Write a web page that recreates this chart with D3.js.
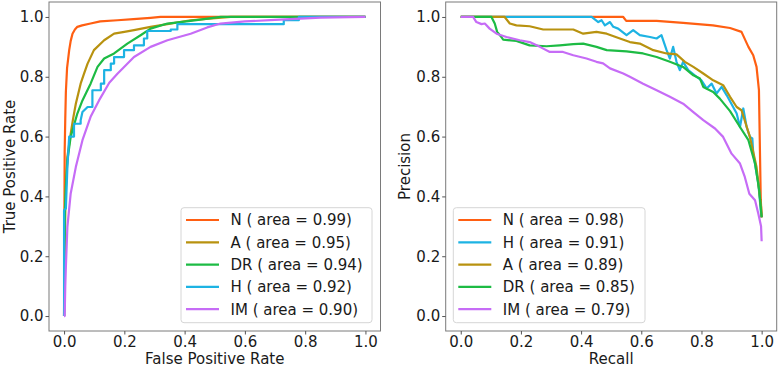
<!DOCTYPE html>
<html>
<head>
<meta charset="utf-8">
<script src="https://cdn.jsdelivr.net/npm/d3@7"></script>
<style>
  body { margin: 0; background: #fff; }
  svg text { font-family: "DejaVu Sans", sans-serif; fill: #1a1a1a; }
</style>
</head>
<body>
<script>
'use strict';

// ROC curves: [false positive rate, true positive rate]
const rocN = [[0,0],[0.001,0.30],[0.002,0.55],[0.004,0.66],[0.006,0.75],[0.010,0.83],[0.017,0.889],[0.022,0.92],[0.028,0.944],[0.036,0.958],[0.044,0.967],[0.060,0.972],[0.088,0.978],[0.120,0.985],[0.177,0.989],[0.230,0.993],[0.287,0.997],[0.320,1],[0.5,1],[0.75,1],[1,1]];
const rocA = [[0,0],[0.002,0.2],[0.005,0.42],[0.011,0.532],[0.022,0.61],[0.030,0.66],[0.039,0.71],[0.055,0.777],[0.066,0.81],[0.078,0.844],[0.099,0.889],[0.133,0.922],[0.166,0.944],[0.2,0.95],[0.232,0.956],[0.287,0.967],[0.343,0.976],[0.42,0.989],[0.553,1],[1,1]];
const rocDR = [[0,0],[0.001,0.22],[0.003,0.36],[0.007,0.45],[0.011,0.52],[0.022,0.6],[0.044,0.677],[0.061,0.721],[0.075,0.75],[0.088,0.777],[0.111,0.833],[0.133,0.861],[0.166,0.878],[0.21,0.911],[0.254,0.939],[0.287,0.961],[0.343,0.978],[0.42,0.987],[0.52,1],[1,1]];
const rocH = [[0,0],[0,0.354],[0.006,0.36],[0.011,0.498],[0.017,0.6],[0.033,0.6],[0.033,0.643],[0.055,0.643],[0.055,0.655],[0.061,0.682],[0.078,0.699],[0.094,0.699],[0.094,0.755],[0.122,0.755],[0.122,0.777],[0.133,0.777],[0.133,0.822],[0.155,0.822],[0.155,0.844],[0.166,0.844],[0.166,0.866],[0.199,0.866],[0.199,0.889],[0.232,0.889],[0.232,0.905],[0.265,0.905],[0.265,0.928],[0.276,0.928],[0.276,0.953],[0.354,0.953],[0.354,0.958],[0.376,0.958],[0.376,0.976],[0.729,0.976],[0.729,0.989],[0.779,0.989],[0.779,1],[1,1]];
const rocIM = [[0,0],[0.002,0],[0.004,0.1],[0.006,0.164],[0.011,0.298],[0.022,0.41],[0.039,0.498],[0.061,0.588],[0.088,0.666],[0.116,0.721],[0.15,0.78],[0.177,0.81],[0.232,0.866],[0.287,0.9],[0.343,0.922],[0.42,0.944],[0.475,0.965],[0.519,0.978],[0.6,0.985],[0.7,0.99],[0.851,0.998],[1,1]];

// PR curves: [recall, precision]
const prN = [[0,1],[0.54,1],[0.55,0.987],[0.651,0.987],[0.739,0.98],[0.838,0.972],[0.895,0.963],[0.933,0.95],[0.956,0.9],[0.972,0.872],[0.983,0.833],[0.991,0.755],[0.997,0.39],[1,0.33]];
const prH = [[0,1],[0.435,1],[0.457,0.983],[0.468,0.989],[0.479,0.972],[0.496,0.983],[0.507,0.967],[0.523,0.961],[0.551,0.939],[0.573,0.956],[0.595,0.939],[0.629,0.933],[0.651,0.928],[0.667,0.939],[0.684,0.889],[0.695,0.861],[0.706,0.9],[0.717,0.85],[0.728,0.822],[0.739,0.85],[0.756,0.822],[0.784,0.8],[0.8,0.788],[0.817,0.761],[0.834,0.777],[0.85,0.744],[0.867,0.766],[0.884,0.738],[0.917,0.677],[0.928,0.632],[0.939,0.694],[0.95,0.632],[0.961,0.599],[0.969,0.594],[0.972,0.544],[0.989,0.443],[0.998,0.343],[1,0.33]];
const prA = [[0,1],[0.146,1],[0.163,0.978],[0.185,0.972],[0.229,0.969],[0.274,0.958],[0.329,0.958],[0.374,0.958],[0.407,0.944],[0.451,0.95],[0.485,0.944],[0.529,0.928],[0.562,0.916],[0.595,0.911],[0.64,0.889],[0.684,0.878],[0.717,0.875],[0.745,0.85],[0.773,0.833],[0.806,0.811],[0.839,0.788],[0.872,0.772],[0.895,0.733],[0.917,0.699],[0.933,0.688],[0.961,0.599],[0.983,0.498],[0.998,0.365],[1,0.33]];
const prDR = [[0,1],[0.102,1],[0.113,0.978],[0.121,0.95],[0.135,0.933],[0.141,0.924],[0.185,0.92],[0.229,0.905],[0.285,0.902],[0.329,0.905],[0.374,0.909],[0.407,0.911],[0.451,0.9],[0.485,0.889],[0.551,0.885],[0.606,0.878],[0.651,0.866],[0.695,0.85],[0.739,0.833],[0.773,0.805],[0.795,0.794],[0.806,0.766],[0.839,0.749],[0.861,0.727],[0.895,0.685],[0.928,0.632],[0.956,0.588],[0.978,0.51],[0.992,0.42],[1,0.331]];
const prIM = [[0,1],[0.041,1],[0.052,0.983],[0.069,0.976],[0.08,0.978],[0.096,0.961],[0.119,0.944],[0.152,0.933],[0.196,0.922],[0.229,0.916],[0.263,0.9],[0.296,0.883],[0.34,0.883],[0.374,0.872],[0.418,0.861],[0.451,0.85],[0.473,0.845],[0.496,0.828],[0.54,0.811],[0.562,0.8],[0.606,0.777],[0.651,0.755],[0.695,0.733],[0.739,0.71],[0.773,0.682],[0.806,0.655],[0.845,0.627],[0.872,0.599],[0.9,0.543],[0.928,0.51],[0.944,0.465],[0.959,0.409],[0.978,0.387],[0.989,0.342],[0.998,0.3],[1,0.25]];

const rocLabels = ["N ( area = 0.99)", "A ( area = 0.95)", "DR ( area = 0.94)", "H ( area = 0.92)", "IM ( area = 0.90)"];
const prLabels = ["N ( area = 0.98)", "H ( area = 0.91)", "A ( area = 0.89)", "DR ( area = 0.85)", "IM ( area = 0.79)"];
const tickValues = [0, 0.2, 0.4, 0.6, 0.8, 1.0];

const colors = {N: "#ff5f12", A: "#b8920f", DR: "#1dbb44", H: "#1db3e3", IM: "#c66cf6"};

const svg = d3.select("body").append("svg")
    .attr("width", 780)
    .attr("height", 367);

const drawPanel = (opts) => {
    // Set the ranges (matplotlib style 5% margin)
    let x = d3.scaleLinear().domain([-0.05, 1.05]).range([opts.left, opts.right]);
    let y = d3.scaleLinear().domain([-0.05, 1.05]).range([331, 2]);

    let g = svg.append("g");

    let line = d3.line()
        .x(d => x(d[0]))
        .y(d => y(d[1]));

    g.selectAll("path.curve")
        .data(opts.series)
        .enter()
        .append("path")
        .attr("class", "curve")
        .attr("d", d => line(d.values))
        .style("fill", "none")
        .style("stroke", d => d.color)
        .style("stroke-width", 2.2)
        .style("stroke-linejoin", "round");

    // frame
    g.append("rect")
        .attr("x", opts.left)
        .attr("y", 2)
        .attr("width", opts.right - opts.left)
        .attr("height", 329)
        .style("fill", "none")
        .style("stroke", "#7a7a7a")
        .style("stroke-width", 1);

    // Add the X Axis
    let xAxis = g.append("g")
        .attr("transform", "translate(0,331)")
        .call(d3.axisBottom(x).tickValues(tickValues).tickFormat(d3.format(".1f")).tickSize(3.5).tickPadding(1.8));

    // Add the Y Axis
    let yAxis = g.append("g")
        .attr("transform", "translate(" + opts.left + ",0)")
        .call(d3.axisLeft(y).tickValues(tickValues).tickFormat(d3.format(".1f")).tickSize(3.5).tickPadding(2));

    [xAxis, yAxis].forEach(a => {
        a.select(".domain").remove();
        a.selectAll("line").style("stroke", "#555");
        a.selectAll("text").style("font-size", "15px").style("font-family", "DejaVu Sans, sans-serif").style("fill", "#1a1a1a");
    });

    g.append("text")
        .attr("x", (opts.left + opts.right) / 2)
        .attr("y", 364)
        .attr("text-anchor", "middle")
        .style("font-size", "15px")
        .text(opts.xLabel);

    g.append("text")
        .attr("transform", "translate(" + opts.yLabelX + "," + 166.5 + ") rotate(-90)")
        .attr("text-anchor", "middle")
        .style("font-size", "15px")
        .text(opts.yLabel);

    // legend
    let lg = g.append("g");
    lg.append("rect")
        .attr("x", opts.legend.x)
        .attr("y", 207.7)
        .attr("width", opts.legend.w)
        .attr("height", 115)
        .attr("rx", 3)
        .style("fill", "#fff")
        .style("fill-opacity", 0.8)
        .style("stroke", "#d6d6d6")
        .style("stroke-width", 1);

    let rows = lg.selectAll("g.row")
        .data(opts.series)
        .enter()
        .append("g")
        .attr("class", "row")
        .attr("transform", (d, i) => "translate(0," + (220 + i * 22.3) + ")");

    rows.append("line")
        .attr("x1", opts.legend.x + 5)
        .attr("x2", opts.legend.x + 38)
        .style("stroke", d => d.color)
        .style("stroke-width", 2.2);

    rows.append("text")
        .attr("x", opts.legend.x + 49.5)
        .attr("y", 5.4)
        .style("font-size", "15px")
        .text(d => d.label);
};

drawPanel({
    left: 49, right: 380.5,
    xLabel: "False Positive Rate", yLabel: "True Positive Rate", yLabelX: 15,
    legend: {x: 181, w: 191},
    series: [
        {values: rocN, color: colors.N, label: rocLabels[0]},
        {values: rocA, color: colors.A, label: rocLabels[1]},
        {values: rocDR, color: colors.DR, label: rocLabels[2]},
        {values: rocH, color: colors.H, label: rocLabels[3]},
        {values: rocIM, color: colors.IM, label: rocLabels[4]}
    ]
});

drawPanel({
    left: 445.7, right: 776.7,
    xLabel: "Recall", yLabel: "Precision", yLabelX: 410,
    legend: {x: 453.3, w: 191.7},
    series: [
        {values: prN, color: colors.N, label: prLabels[0]},
        {values: prH, color: colors.H, label: prLabels[1]},
        {values: prA, color: colors.A, label: prLabels[2]},
        {values: prDR, color: colors.DR, label: prLabels[3]},
        {values: prIM, color: colors.IM, label: prLabels[4]}
    ]
});
</script>
</body>
</html>
